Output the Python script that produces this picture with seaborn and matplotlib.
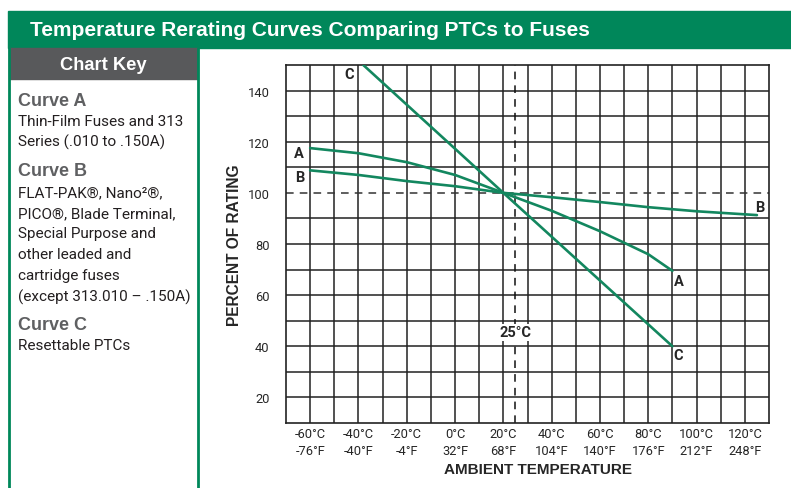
import numpy as np
import pandas as pd
import matplotlib
matplotlib.use("Agg")
import matplotlib.pyplot as plt
from matplotlib.patches import Rectangle
from matplotlib.lines import Line2D
import seaborn as sns

# curve data (deg C, percent of rating)
temp_a = [-60, -40, -20, 0, 20, 40, 60, 80, 90]
rating_a = [117.5, 115.5, 112, 107, 100, 93, 85, 76, 69.5]
temp_b = [-60, -40, -20, 0, 20, 40, 60, 80, 100, 125]
rating_b = [108.8, 107, 104.6, 102.6, 100, 98.3, 96.4, 94.4, 92.8, 91.3]
temp_c = [-38, 20, 90]
rating_c = [150, 100, 40]

x_labels_c = ["-60°C", "-40°C", "-20°C", "0°C", "20°C", "40°C", "60°C", "80°C", "100°C", "120°C"]
x_labels_f = ["-76°F", "-40°F", "-4°F", "32°F", "68°F", "104°F", "140°F", "176°F", "212°F", "248°F"]
x_label_pos = [-60, -40, -20, 0, 20, 40, 60, 80, 100, 120]
y_label_pos = [20, 40, 60, 80, 100, 120, 140]

key_lines = [
    ("Curve A", True), ("Thin-Film Fuses and 313", False), ("Series (.010 to .150A)", False),
    ("Curve B", True), ("FLAT-PAK®, Nano²®,", False), ("PICO®, Blade Terminal,", False),
    ("Special Purpose and", False), ("other leaded and", False), ("cartridge fuses", False),
    ("(except 313.010 – .150A)", False),
    ("Curve C", True), ("Resettable PTCs", False),
]
key_y = [101, 122, 142, 172, 193, 214, 234, 255, 276, 297, 326, 346]

df = pd.concat([
    pd.DataFrame({"temp": temp_a, "rating": rating_a, "curve": "A"}),
    pd.DataFrame({"temp": temp_b, "rating": rating_b, "curve": "B"}),
    pd.DataFrame({"temp": temp_c, "rating": rating_c, "curve": "C"}),
])

sns.set_style("white")
narrow = ["Roboto", "DejaVu Sans"]
heavy = ["Liberation Sans", "DejaVu Sans"]
plt.rcParams["font.family"] = narrow

W, H = 791, 489
fig = plt.figure(figsize=(W / 100, H / 100), dpi=100)
GREEN = "#00875A"
LINE = "#13875F"
GREY = "#58595B"


def fx(x):
    return x / W


def fy(y):
    return 1 - y / H


# frame: title bar, key header, green rules
fig.add_artist(Rectangle((fx(8), fy(49)), fx(W - 8), 37 / H, color=GREEN, transform=fig.transFigure))
fig.add_artist(Rectangle((fx(9), fy(80)), fx(189), 31 / H, color=GREY, transform=fig.transFigure))
fig.add_artist(Line2D([fx(8.5), fx(8.5)], [fy(49), 0], color=GREEN, lw=2, transform=fig.transFigure))
fig.add_artist(Line2D([fx(198), fx(198)], [fy(49), 0], color=GREEN, lw=2, transform=fig.transFigure))
fig.text(fx(30), fy(31), "Temperature Rerating Curves Comparing PTCs to Fuses", color="white",
         fontsize=15, fontweight="bold", family=heavy, va="center")
fig.text(fx(103), fy(65), "Chart Key", color="white", fontsize=13.2, fontweight="bold",
         family=heavy, ha="center", va="center")
for (txt, bold), y in zip(key_lines, key_y):
    if bold:
        fig.text(fx(18), fy(y), txt, color="#5f6062", fontsize=13, fontweight="bold",
                 family=heavy, va="center")
    else:
        fig.text(fx(18), fy(y), txt, color="#231f20", fontsize=11, va="center")

ax = fig.add_axes([fx(286), fy(424), fx(769 - 286), (424 - 66) / H])
sns.lineplot(data=df, x="temp", y="rating", hue="curve", palette=[LINE] * 3, lw=1.9,
             legend=False, ax=ax, zorder=5, sort=False)
ax.set_xlim(-70, 130)
ax.set_ylim(10, 150)

# grid drawn by hand so the 100% line can be dashed
for xv in range(-60, 130, 10):
    ax.axvline(xv, color="#222222", lw=1.1, zorder=1)
for yv in range(20, 150, 10):
    if yv != 100:
        ax.axhline(yv, color="#222222", lw=1.1, zorder=1)
ax.axhline(100, color="#333333", lw=1.1, ls=(0, (5, 4)), zorder=2)
ax.axvline(25, color="#111111", lw=1.1, ls=(0, (5, 4)), zorder=2)
for s in ax.spines.values():
    s.set_color("#222222")
    s.set_linewidth(1.2)

ax.set_xticks(x_label_pos)
ax.set_xticklabels([c + "\n" + f for c, f in zip(x_labels_c, x_labels_f)], fontsize=9.3,
                   linespacing=1.4)
ax.set_yticks(y_label_pos)
ax.set_yticklabels([str(v) for v in y_label_pos], fontsize=9.3)
ax.tick_params(axis="x", length=0, pad=3)
ax.tick_params(axis="y", length=0, pad=12)
ax.set_xlabel("AMBIENT TEMPERATURE", fontsize=11, fontweight="bold", family=heavy)
ax.xaxis.set_label_coords(0.522, -0.11)
ax.set_ylabel("PERCENT OF RATING", fontsize=11.2, fontweight="bold", family=heavy)
ax.yaxis.set_label_coords(-0.092, 0.5)

lab = dict(fontsize=10.5, fontweight="bold", ha="center", va="center", zorder=6)
ax.text(-44, 146.5, "C", **lab)
ax.text(-64.5, 115.7, "A", **lab)
ax.text(-64.5, 106.3, "B", **lab)
ax.text(126, 94.5, "B", **lab)
ax.text(92.5, 65.5, "A", **lab)
ax.text(92.5, 36.5, "C", **lab)
ax.text(25, 45.5, "25°C", bbox=dict(facecolor="white", edgecolor="none", pad=1), **lab)

fig.savefig("out.png", dpi=100)
